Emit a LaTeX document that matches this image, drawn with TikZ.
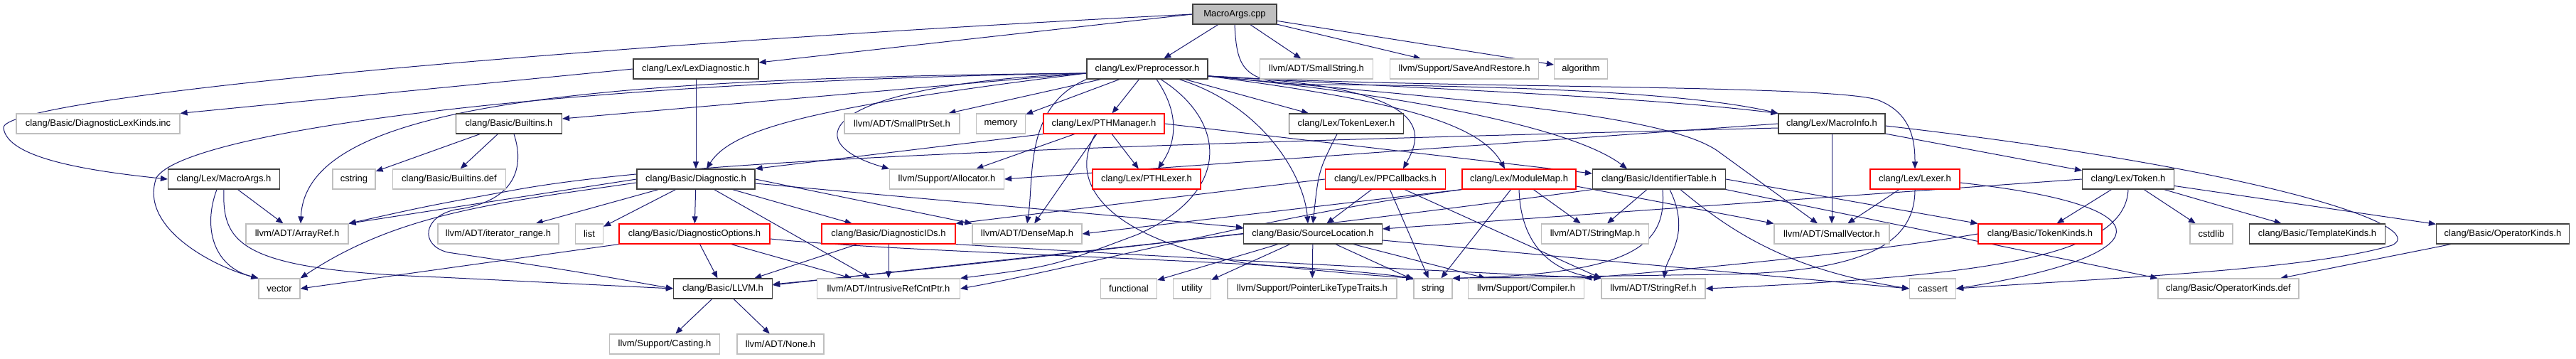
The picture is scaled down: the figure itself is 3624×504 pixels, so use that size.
\documentclass[tikz,border=0pt]{standalone}
\usepackage{fontspec}
\setmainfont{Liberation Sans}
\usepackage{xcolor}
\usepackage{tikz}
\usetikzlibrary{arrows.meta}
\definecolor{edgeblue}{HTML}{191970}
\definecolor{docborder}{HTML}{404040}
\definecolor{extborder}{HTML}{BFBFBF}
\definecolor{truncborder}{HTML}{FF0000}
\definecolor{rootfill}{HTML}{BFBFBF}
\pgfdeclarelayer{back}
\pgfsetlayers{back,main}
\tikzset{
  filebox/.style={rectangle, fill=white, inner sep=0pt, minimum height=28pt, line width=1.2pt, font=\fontsize{13}{15}\selectfont},
  hdr/.style={filebox, draw=docborder},
  ext/.style={filebox, draw=extborder},
  trunc/.style={filebox, draw=truncborder},
  root/.style={filebox, draw=docborder, fill=rootfill},
  dep/.style={draw=edgeblue, line width=1pt, -{Triangle[length=10pt,width=8pt]}},
}

\begin{document}
\begin{tikzpicture}[x=1pt,y=-1pt]
  \useasboundingbox (0,0) rectangle (3624,504);

  \node[root, minimum width=118pt] (cpp) at (1737,20) {MacroArgs.cpp};

  \node[hdr, minimum width=176pt] (lexdiag) at (979,97) {clang/Lex/LexDiagnostic.h};
  \node[hdr, minimum width=170pt] (pp) at (1614,97) {clang/Lex/Preprocessor.h};
  \node[ext, minimum width=159pt] (sstr) at (1852,97) {llvm/ADT/SmallString.h};
  \node[ext, minimum width=209pt] (sar) at (2060,97) {llvm/Support/SaveAndRestore.h};
  \node[ext, minimum width=75pt] (algo) at (2224,97) {algorithm};

  \node[ext, minimum width=230pt] (dlk) at (138,174) {clang/Basic/DiagnosticLexKinds.inc};
  \node[hdr, minimum width=149pt] (builtins) at (716,174) {clang/Basic/Builtins.h};
  \node[ext, minimum width=162pt] (sptr) at (1269,174) {llvm/ADT/SmallPtrSet.h};
  \node[ext, minimum width=69pt] (memory) at (1408,174) {memory};
  \node[trunc, minimum width=170pt] (pthm) at (1553,174) {clang/Lex/PTHManager.h};
  \node[hdr, minimum width=161pt] (toklex) at (1894,174) {clang/Lex/TokenLexer.h};
  \node[hdr, minimum width=150pt] (minfo) at (2577,174) {clang/Lex/MacroInfo.h};

  \node[hdr, minimum width=157pt] (margs) at (315,252) {clang/Lex/MacroArgs.h};
  \node[ext, minimum width=60pt] (cstring) at (498,252) {cstring};
  \node[ext, minimum width=159pt] (bdef) at (632,252) {clang/Basic/Builtins.def};
  \node[hdr, minimum width=166pt] (diag) at (979,252) {clang/Basic/Diagnostic.h};
  \node[ext, minimum width=161pt] (alloc) at (1332,252) {llvm/Support/Allocator.h};
  \node[trunc, minimum width=152pt] (pthlex) at (1613,252) {clang/Lex/PTHLexer.h};
  \node[trunc, minimum width=169pt] (ppcb) at (1949,252) {clang/Lex/PPCallbacks.h};
  \node[trunc, minimum width=160pt] (modmap) at (2137,252) {clang/Lex/ModuleMap.h};
  \node[hdr, minimum width=187pt] (idtab) at (2334,252) {clang/Basic/IdentifierTable.h};
  \node[trunc, minimum width=126pt] (lexer) at (2694,252) {clang/Lex/Lexer.h};
  \node[hdr, minimum width=129pt] (token) at (2994,252) {clang/Lex/Token.h};

  \node[ext, minimum width=144pt] (aref) at (418,329) {llvm/ADT/ArrayRef.h};
  \node[ext, minimum width=170pt] (itrange) at (701,329) {llvm/ADT/iterator\_range.h};
  \node[ext, minimum width=39pt] (list) at (829,329) {list};
  \node[trunc, minimum width=212pt] (dopts) at (977,329) {clang/Basic/DiagnosticOptions.h};
  \node[trunc, minimum width=188pt] (dids) at (1250,329) {clang/Basic/DiagnosticIDs.h};
  \node[ext, minimum width=154pt] (dmap) at (1445,329) {llvm/ADT/DenseMap.h};
  \node[hdr, minimum width=195pt] (srcloc) at (1847,329) {clang/Basic/SourceLocation.h};
  \node[ext, minimum width=151pt] (smap) at (2244,329) {llvm/ADT/StringMap.h};
  \node[ext, minimum width=162pt] (svec) at (2577,329) {llvm/ADT/SmallVector.h};
  \node[trunc, minimum width=174pt] (tkinds) at (2870,329) {clang/Basic/TokenKinds.h};
  \node[ext, minimum width=60pt] (cstdlib) at (3111,329) {cstdlib};
  \node[hdr, minimum width=191pt] (tmplk) at (3260,329) {clang/Basic/TemplateKinds.h};
  \node[hdr, minimum width=187pt] (opk) at (3521,329) {clang/Basic/OperatorKinds.h};

  \node[ext, minimum width=58pt] (vector) at (393,406) {vector};
  \node[hdr, minimum width=139pt] (llvm) at (1017,406) {clang/Basic/LLVM.h};
  \node[ext, minimum width=201pt] (irc) at (1250,406) {llvm/ADT/IntrusiveRefCntPtr.h};
  \node[ext, minimum width=79pt] (functional) at (1588,406) {functional};
  \node[ext, minimum width=53pt] (utility) at (1677,406) {utility};
  \node[ext, minimum width=238pt] (pltt) at (1846,406) {llvm/Support/PointerLikeTypeTraits.h};
  \node[ext, minimum width=54pt] (string) at (2016,406) {string};
  \node[ext, minimum width=163pt] (compiler) at (2147,406) {llvm/Support/Compiler.h};
  \node[ext, minimum width=146pt] (sref) at (2326,406) {llvm/ADT/StringRef.h};
  \node[ext, minimum width=65pt] (cassert) at (2719,406) {cassert};
  \node[ext, minimum width=198pt] (opdef) at (3135,406) {clang/Basic/OperatorKinds.def};

  \node[ext, minimum width=155pt] (casting) at (935,484) {llvm/Support/Casting.h};
  \node[ext, minimum width=122pt] (none) at (1098,484) {llvm/ADT/None.h};

  \coordinate (ppl) at ([yshift=-6pt]pp.west);
  \coordinate (ppr) at ([yshift=-10pt]pp.east);

  \begin{pgfonlayer}{back}
  \draw[dep] (cpp.west) .. controls (700,70) and (0,140) .. (5,180) .. controls (10,222) and (120,240) .. (margs.west);
  \draw[dep] (cpp.west) -- ([yshift=9pt]lexdiag.east);
  \draw[dep] (cpp) -- (pp);
  \draw[dep] (cpp.south) .. controls (1740,100) and (1750,118) .. (1850,119) .. controls (2250,121) and (2420,140) .. (minfo.north west);
  \draw[dep] (cpp) -- (sstr);
  \draw[dep] (cpp) -- (sar);
  \draw[dep] (cpp) -- (algo);

  \draw[dep] (margs) -- (aref);
  \draw[dep] ([xshift=-10pt]margs.south) .. controls (285,320) and (300,375) .. (vector.north west);
  \draw[dep] (margs.south) .. controls (312,345) and (340,380) .. (620,390) -- (llvm.west);

  \draw[dep] (lexdiag) -- (diag);
  \draw[dep] (lexdiag.west) -- (dlk.north east);

  \draw[dep] (ppl) -- ([yshift=7pt]builtins.east);
  \draw[dep] (ppl) .. controls (1150,150) and (1030,180) .. ([xshift=15pt]diag.north);
  \draw[dep] (ppr) .. controls (1900,125) and (2200,170) .. ([xshift=-45pt]idtab.north);
  \draw[dep] ([xshift=45pt]pp.south) .. controls (1780,150) and (1835,250) .. ([xshift=-7pt]srcloc.north);
  \draw[dep] (ppr) .. controls (2000,125) and (2560,118) .. (2640,140) .. controls (2690,158) and (2694,200) .. (lexer.north);
  \draw[dep] (ppr) .. controls (2000,125) and (2300,135) .. (minfo.north west);
  \draw[dep] (ppr) .. controls (1950,140) and (2080,170) .. ([xshift=-20pt]modmap.north);
  \draw[dep] (ppr) .. controls (2030,120) and (2000,190) .. ([xshift=25pt]ppcb.north);
  \draw[dep] ([xshift=13pt]pp.south) .. controls (1660,160) and (1655,200) .. ([xshift=16pt]pthlex.north);
  \draw[dep] (pp) -- (pthm);
  \draw[dep] (pp) -- (toklex);
  \draw[dep] (ppl) .. controls (800,110) and (430,150) .. ([xshift=5pt]aref.north);
  \draw[dep] (pp.south west) .. controls (1440,150) and (1455,250) .. (dmap.north);
  \draw[dep] ([xshift=19pt]pp.south) .. controls (1725,170) and (1735,270) .. (1600,330) .. controls (1480,375) .. (irc.north east);
  \draw[dep] (pp) -- (sptr);
  \draw[dep] (ppr) .. controls (2050,140) and (2350,160) .. (2420,215) -- ([xshift=-20pt]svec.north);
  \draw[dep] (ppl) .. controls (1150,120) and (1120,200) .. (alloc.north west);
  \draw[dep] (pp) -- (memory);
  \draw[dep] (ppl) .. controls (780,115) and (260,185) .. (220,250) .. controls (195,320) and (300,375) .. (vector.north west);

  \draw[dep] (builtins) -- (bdef);
  \draw[dep] (builtins) -- (cstring);
  \draw[dep] ([xshift=7pt]builtins.south) .. controls (740,240) and (720,285) .. (640,295) .. controls (595,305) and (590,345) .. (630,355) .. controls (800,380) .. (llvm.west);

  \draw[dep] (diag) -- (dids);
  \draw[dep] (diag) -- (dopts);
  \draw[dep] ([yshift=-6pt]diag.east) -- ([yshift=9pt]srcloc.west);
  \draw[dep] (diag.west) -- (aref.north east);
  \draw[dep] (diag.east) -- (dmap.north west);
  \draw[dep] (diag) -- (irc);
  \draw[dep] (diag) -- (itrange);
  \draw[dep] (diag) -- (list);
  \draw[dep] ([yshift=-5pt]diag.west) .. controls (700,285) and (560,300) .. (vector.north east);

  \draw[dep] (dopts) -- (llvm);
  \draw[dep] (dopts) -- (irc);
  \draw[dep] ([yshift=-7pt]dopts.east) .. controls (1300,358) and (1800,365) .. (string.north west);
  \draw[dep] (dopts.south west) -- (vector.east);

  \draw[dep] (dids) -- (llvm);
  \draw[dep] (dids) -- (irc);
  \draw[dep] (dids.south east) .. controls (1700,365) and (2100,385) .. (sref.north west);

  \draw[dep] (llvm) -- (casting);
  \draw[dep] (llvm) -- (none);

  \draw[dep] (pthm.south west) -- (diag.north east);
  \draw[dep] (pthm.east) -- ([yshift=8pt]idtab.west);
  \draw[dep] (pthm) -- (pthlex);
  \draw[dep] (pthm) -- (dmap);
  \draw[dep] (pthm) -- (alloc);
  \draw[dep] ([xshift=-12pt]pthm.south) .. controls (1500,260) and (1560,335) .. (1750,370) .. controls (1900,385) .. (string.north west);

  \draw[dep] ([xshift=-13pt]toklex.south) .. controls (1855,240) .. (srcloc.north);

  \draw[dep] (ppcb.west) -- (dids.north east);
  \draw[dep] (ppcb) -- (srcloc);
  \draw[dep] (ppcb) -- (string);
  \draw[dep] ([xshift=27pt]ppcb.south) -- (sref.north west);

  \draw[dep] (modmap.south west) -- (dmap.east);
  \draw[dep] (modmap.south west) .. controls (1800,300) and (1500,380) .. (irc.east);
  \draw[dep] ([yshift=-10pt]modmap.east) -- (svec.north west);
  \draw[dep] (modmap) -- (smap);
  \draw[dep] (modmap.south) .. controls (2140,360) and (2200,385) .. (sref.north west);
  \draw[dep] (modmap) -- (string);

  \draw[dep] (idtab.south west) .. controls (2000,300) and (1500,360) .. ([yshift=6pt]llvm.east);
  \draw[dep] (idtab.east) -- (tkinds.north west);
  \draw[dep] (idtab.south east) -- (opdef.north west);
  \draw[dep] (idtab) -- (smap);
  \draw[dep] ([xshift=15pt]idtab.south) .. controls (2380,330) and (2345,360) .. ([xshift=15pt]sref.north);
  \draw[dep] ([xshift=5pt]idtab.south) .. controls (2345,345) and (2300,385) .. (string.north east);
  \draw[dep] ([xshift=30pt]idtab.south) .. controls (2440,330) and (2520,380) .. (cassert.west);

  \draw[dep] (minfo) -- (token);
  \draw[dep] (minfo) -- (svec);
  \draw[dep] (minfo.west) -- (alloc.east);
  \draw[dep] ([yshift=-6pt]minfo.west) .. controls (1500,205) and (950,225) .. (720,268) .. controls (600,290) .. (aref.north east);
  \draw[dep] ([yshift=-3pt]minfo.east) .. controls (3200,240) and (3420,320) .. (3365,345) .. controls (3250,380) and (2950,392) .. (cassert.east);

  \draw[dep] (lexer) -- (svec);
  \draw[dep] ([yshift=-5pt]lexer.east) .. controls (3060,290) and (3040,360) .. (cassert.east);
  \draw[dep] (lexer.south) .. controls (2694,345) and (2620,383) .. (2420,386) -- (string.north east);

  \draw[dep] (token.west) -- ([yshift=7pt]srcloc.east);
  \draw[dep] (token) -- (tkinds);
  \draw[dep] (token.south) .. controls (2990,360) and (2800,388) .. (sref.east);
  \draw[dep] (token) -- (cstdlib);
  \draw[dep] (token) -- (tmplk);
  \draw[dep] (token) -- (opk);

  \draw[dep] (tkinds.west) .. controls (2600,360) and (2300,385) .. (compiler.north east);

  \draw[dep] (srcloc.west) -- ([yshift=5pt]llvm.east);
  \draw[dep] (srcloc) -- (compiler);
  \draw[dep] (srcloc) -- (pltt);
  \draw[dep] (srcloc) -- (string);
  \draw[dep] (srcloc) -- (functional);
  \draw[dep] (srcloc) -- (utility);
  \draw[dep] ([yshift=-9pt]srcloc.east) -- (cassert.west);

  \draw[dep] (opk) -- (opdef);
  \end{pgfonlayer}
\end{tikzpicture}
\end{document}
